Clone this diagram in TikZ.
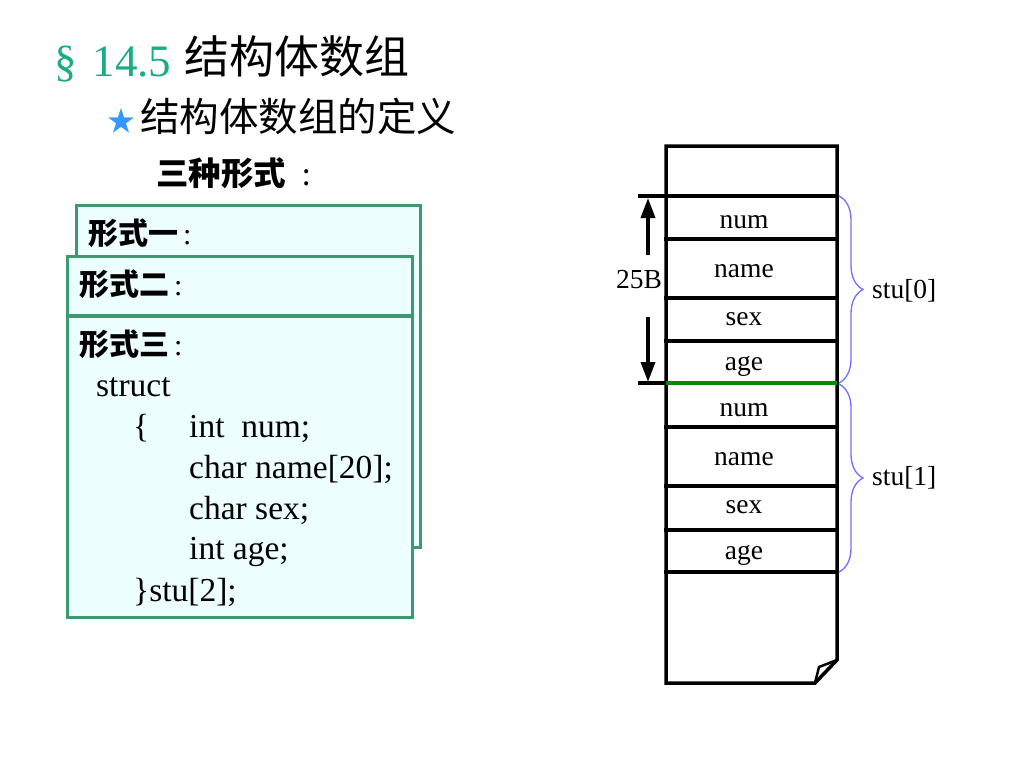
\documentclass[tikz,border=0pt]{standalone}
\usepackage{fontspec}
\setmainfont{Liberation Serif}
\newfontfamily\cjk{Noto Sans CJK SC}
\usetikzlibrary{arrows.meta,decorations.pathreplacing}
\definecolor{titlegreen}{RGB}{26,172,132}
\definecolor{starblue}{RGB}{51,153,255}
\definecolor{boxgreen}{RGB}{60,154,110}
\definecolor{boxfill}{RGB}{236,254,254}
\definecolor{bracecol}{RGB}{112,112,255}
\definecolor{linegreen}{RGB}{0,140,0}
\begin{document}
\begin{tikzpicture}[x=1pt,y=-1pt,
  formbox/.style={draw=boxgreen,fill=boxfill,line width=3pt},
  codetxt/.style={anchor=base west,inner sep=0pt,font=\fontsize{33.5}{33.5}\selectfont},
  formlbl/.style={anchor=base west,inner sep=0pt,font=\fontsize{30}{30}\selectfont},
  celltxt/.style={anchor=base,inner sep=0pt,font=\fontsize{27.5}{27.5}\selectfont},
  memline/.style={line width=3.5pt,line cap=rect},
  sizearrow/.style={line width=3.5pt,-{Triangle[width=14pt,length=20pt]}},
  bracestyle/.style={draw=bracecol,line width=1.3pt,decorate,decoration={brace,amplitude=24pt}}]
\useasboundingbox (0,0) rectangle (1024,768);
\fill[white] (0,0) rectangle (1024,768);
% title
\node[anchor=base west,inner sep=0pt,text=titlegreen,font=\fontsize{45}{45}\selectfont] (sec) at (54,76) {\S\hspace{16pt}14.5};
\node[anchor=base west,inner sep=0pt,font=\cjk\fontsize{45}{45}\selectfont] (ttl) at (184,73) {结构体数组};
\node[anchor=base west,inner sep=0pt,text=starblue,font=\cjk\fontsize{28}{28}\selectfont] (star) at (107,131) {★};
\node[anchor=base west,inner sep=0pt,font=\cjk\fontsize{39.5}{39.5}\selectfont] (sub) at (140,131) {结构体数组的定义};
\node[anchor=base west,inner sep=0pt,font=\cjk\bfseries\fontsize{32.5}{32.5}\selectfont] (three) at (156,185) {三种形式};
\node[anchor=base west,inner sep=0pt,font=\cjk\fontsize{30}{30}\selectfont] (colon) at (302,185) {:};
% boxes
\draw[formbox] (76,205) rectangle (420,547);
\draw[formbox] (67,256) rectangle (412,315);
\draw[formbox] (67,316) rectangle (412,617);
\node[formlbl] (f1) at (88,244) {{\cjk\bfseries 形式一}\,:};
\node[formlbl] (f2) at (79,295) {{\cjk\bfseries 形式二}\,:};
\node[formlbl] (f3) at (79,355) {{\cjk\bfseries 形式三}\,:};
\node[codetxt] (c1) at (96,396) {struct};
\node[codetxt] (c2) at (133,437) {\{};
\node[codetxt] (c3) at (189,437) {int\ \ num;};
\node[codetxt] (c4) at (189,478) {char name[20];};
\node[codetxt] (c5) at (189,519) {char sex;};
\node[codetxt] (c6) at (189,559) {int age;};
\node[codetxt] (c7) at (133,601) {\}stu[2];};
% memory column
\draw[memline,line join=miter] (837,660) -- (837,146) -- (666,146) -- (666,683) -- (815,683) -- cycle;
\draw[line width=2.5pt,line join=round] (815,683) -- (819,667) -- (837,660);
\draw[memline] (640,196) -- (837,196);
\draw[memline] (666,239) -- (837,239);
\draw[memline] (666,298) -- (837,298);
\draw[memline] (666,341) -- (837,341);
\draw[memline] (640,383) -- (666,383);
\draw[line width=3.5pt,linegreen] (666,383) -- (837,383);
\draw[memline] (666,427) -- (837,427);
\draw[memline] (666,486) -- (837,486);
\draw[memline] (666,530) -- (837,530);
\draw[memline] (666,572) -- (837,572);
\node[celltxt] (n0) at (744,228) {num};
\node[celltxt] (m0) at (744,277) {name};
\node[celltxt] (s0) at (744,325) {sex};
\node[celltxt] (a0) at (744,370) {age};
\node[celltxt] (n1) at (744,416) {num};
\node[celltxt] (m1) at (744,465) {name};
\node[celltxt] (s1) at (744,513) {sex};
\node[celltxt] (a1) at (744,559) {age};
% size arrows
\node[celltxt] (sz) at (639,288) {25B};
\coordinate (upS) at (648,255);
\coordinate (upE) at (648,198);
\coordinate (dnS) at (648,317);
\coordinate (dnE) at (648,382);
\draw[sizearrow] (upS) -- (upE);
\draw[sizearrow] (dnS) -- (dnE);
% braces
\coordinate (b0t) at (839,196);
\coordinate (b0b) at (839,383);
\coordinate (b1t) at (839,384);
\coordinate (b1b) at (839,572);
\draw[bracestyle] (b0t) -- (b0b);
\draw[bracestyle] (b1t) -- (b1b);
\node[celltxt,anchor=base west] (st0) at (872,298) {stu[0]};
\node[celltxt,anchor=base west] (st1) at (872,485) {stu[1]};
\end{tikzpicture}
\end{document}
